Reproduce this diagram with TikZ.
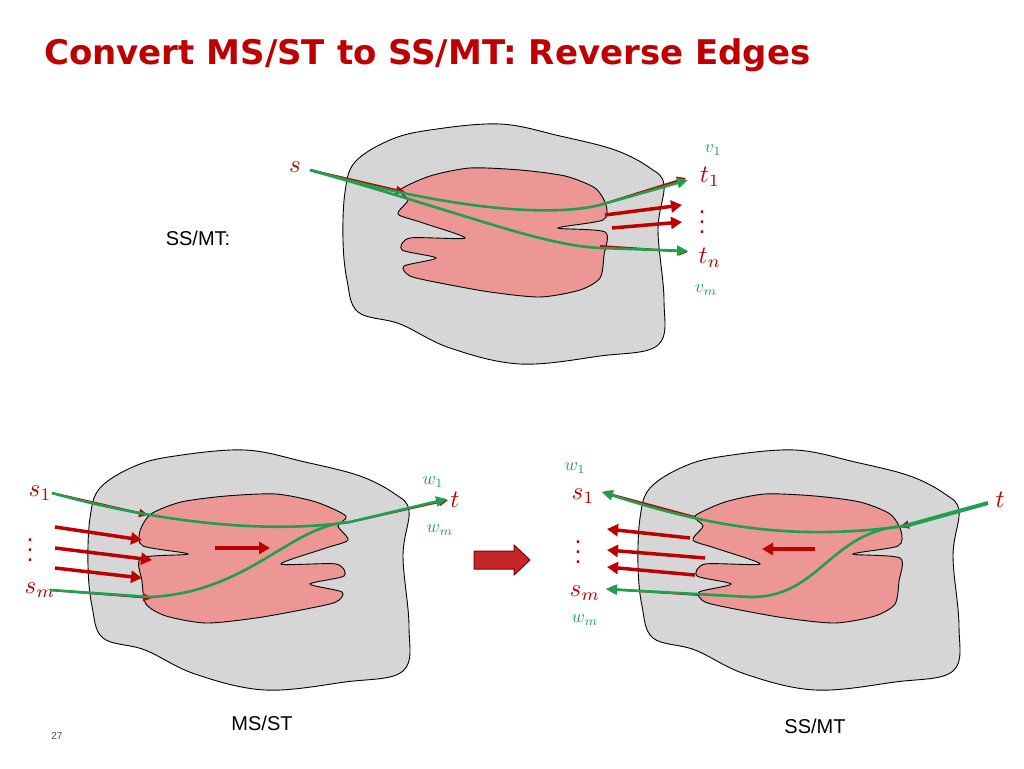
\documentclass[tikz,border=0pt]{standalone}
\usepackage{fontspec}
\setmainfont{Liberation Sans}
\newfontfamily\titlefont{DejaVu Sans}
\usetikzlibrary{arrows.meta}
\definecolor{gr}{RGB}{30,160,80}
\definecolor{rd}{RGB}{190,0,0}
\definecolor{pink}{RGB}{236,150,150}
\tikzset{
 grayblob/.style={draw=black,fill=black!16,line width=0.9pt},
 redblob/.style={draw=black,fill=pink,line width=0.9pt},
 redthick/.style={draw=rd,line width=3.5pt,-{Triangle[length=11pt,width=12pt]}},
 redthin/.style={draw=rd,line width=2pt,-{Triangle[length=9pt,width=8pt]}},
 green/.style={draw=gr,line width=2.6pt,-{Triangle[length=11pt,width=10pt]}},
 greenl/.style={draw=gr,line width=2.6pt},
 mlab/.style={text=rd,scale=2.5,inner sep=0pt},
 glab/.style={text=gr,scale=1.8,inner sep=0pt},
 captext/.style={font=\fontsize{20}{22}\selectfont,inner sep=0pt}
}
\newcommand{\grayshape}{plot[smooth cycle,tension=0.6] coordinates {(345,192)(355,162)(390,140)(430,130)(500,124)(560,136)(615,150)(650,168)(664,185)(658,230)(664,300)(658,345)(600,356)(520,364)(450,348)(400,324)(358,312)(347,280)(343,240)}}
\newcommand{\redshape}{plot[smooth cycle,tension=0.45] coordinates {(400,190)(430,176)(470,168)(520,170)(565,176)(595,188)(606,205)(603,220)(558,228)(605,232)(604,255)(600,278)(580,290)(540,297)(490,292)(440,283)(410,276)(404,266)(436,258)(402,250)(410,238)(465,238)(420,222)(398,214)(408,200)}}
\begin{document}
\begin{tikzpicture}[x=1pt,y=-1pt]
\useasboundingbox (0,0) rectangle (1024,768);
\node[anchor=west,text=rd,font=\fontsize{34}{38}\selectfont\titlefont\bfseries,inner sep=0pt] (title) at (44,55) {Convert MS/ST to SS/MT: Reverse Edges};
% top
\draw[grayblob] \grayshape;
\draw[redblob] \redshape;
\node[mlab] (s) at (295,167) {$s$};
\node[glab] (v1) at (713,150) {$v_1$};
\node[mlab] (t1) at (710,177) {$t_1$};
\node[mlab] (td) at (702,215) {$\vdots$};
\node[mlab] (tn) at (710,258) {$t_n$};
\node[glab] (vm) at (706,290) {$v_m$};
\node[captext] (ssmt1) at (198,238) {SS/MT:};
\coordinate (a0) at (310,170);
\draw[redthin] (a0) -- (405,192);
\draw[redthin] (600,205) -- (686,178);
\draw[redthick] (605,215) -- (682,205);
\draw[redthick] (612,228) -- (682,222);
\draw[redthin] (600,246) -- (688,252);
\draw[green] (a0) .. controls (470,215) and (560,215) .. (600,205) -- (688,180);
\draw[green] (a0) .. controls (470,215) and (540,245) .. (600,248) -- (688,251);
% bottom left
\begin{scope}[yshift=-326pt,xshift=-255pt]
\draw[grayblob] \grayshape;
\end{scope}
\begin{scope}[yshift=-326pt,xshift=746pt,xscale=-1]
\draw[redblob] \redshape;
\end{scope}
\node[mlab] (s1) at (40,493) {$s_1$};
\node[mlab] (sd) at (30,543) {$\vdots$};
\node[mlab] (sm) at (40,590) {$s_m$};
\node[glab] (w1) at (433,482) {$w_1$};
\node[mlab] (t) at (455,500) {$t$};
\node[glab] (wm) at (440,530) {$w_m$};
\coordinate (b1) at (52,493);
\coordinate (bm) at (50,590);
\coordinate (bj) at (350,522);
\draw[redthin] (b1) -- (148,515);
\draw[redthick] (55,527) -- (142,540);
\draw[redthick] (55,548) -- (152,560);
\draw[redthick] (55,568) -- (142,578);
\draw[redthin] (bm) -- (152,598);
\draw[redthick] (215,548) -- (270,548);
\draw[redthin] (bj) -- (448,500);
\draw[green] (b1) .. controls (150,520) and (260,535) .. (bj) -- (447,499);
\draw[greenl] (bm) -- (150,597) .. controls (250,592) and (290,525) .. (bj);
% transition arrow
\draw[draw=rd!70!black,fill=rd!85!white,line width=1pt] (474,551) -- (514,551) -- (514,545) -- (530,560) -- (514,575) -- (514,569) -- (474,569) -- cycle;
% bottom right
\begin{scope}[yshift=-326pt,xshift=295pt]
\draw[grayblob] \grayshape;
\draw[redblob] \redshape;
\end{scope}
\node[glab] (w1r) at (575,468) {$w_1$};
\node[mlab] (s1r) at (583,496) {$s_1$};
\node[mlab] (sdr) at (578,545) {$\vdots$};
\node[mlab] (smr) at (585,593) {$s_m$};
\node[glab] (wmr) at (585,620) {$w_m$};
\node[mlab] (tr) at (1000,500) {$t$};
\coordinate (c0) at (988,503);
\coordinate (cj) at (900,527);
\coordinate (cs1) at (602,492);
\coordinate (csm) at (606,589);
\draw[redthin] (695,517) -- (cs1);
\draw[redthick] (690,538) -- (607,529);
\draw[redthick] (705,558) -- (607,550);
\draw[redthick] (695,575) -- (607,567);
\draw[redthin] (700,595) -- (csm);
\draw[redthick] (815,549) -- (762,549);
\draw[redthin] (950,513) -- (cj);
\draw[draw=gr,line width=4pt] (c0) -- (905,526);
\draw[green] (905,526) .. controls (800,540) and (720,530) .. (cs1);
\draw[green] (905,526) .. controls (830,530) and (820,598) .. (750,597) -- (csm);
% captions
\node[captext] (msst) at (262,723) {MS/ST};
\node[captext] (ssmt2) at (815,726) {SS/MT};
\node[font=\fontsize{10}{12}\selectfont,text=black!70] (pg) at (57,736) {27};
\end{tikzpicture}
\end{document}
